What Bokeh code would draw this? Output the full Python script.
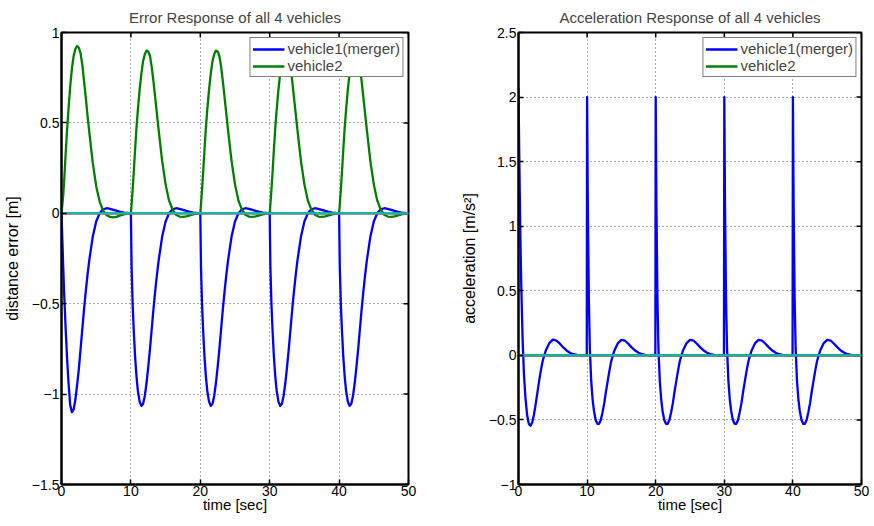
from bokeh.plotting import figure
from bokeh.models import Range1d, FixedTicker, Legend, LegendItem
from bokeh.layouts import row
from bokeh.embed import file_html
from bokeh.resources import INLINE

# ---------------- data ----------------
time = [
    0.0, 0.1, 0.25, 0.4, 0.6, 0.8, 1.0, 1.25, 1.5, 1.75, 2.0, 2.25, 2.5, 2.75, 3.0, 3.25,
    3.5, 3.75, 4.0, 4.5, 5.0, 5.5, 6.0, 6.5, 7.0, 7.5, 8.0, 8.5, 9.0, 9.5, 9.95,
    10.0, 10.1, 10.25, 10.4, 10.6, 10.8, 11.0, 11.25, 11.5, 11.75, 12.0, 12.25, 12.5, 12.75, 13.0, 13.25,
    13.5, 13.75, 14.0, 14.5, 15.0, 15.5, 16.0, 16.5, 17.0, 17.5, 18.0, 18.5, 19.0, 19.5, 19.95,
    20.0, 20.1, 20.25, 20.4, 20.6, 20.8, 21.0, 21.25, 21.5, 21.75, 22.0, 22.25, 22.5, 22.75, 23.0, 23.25,
    23.5, 23.75, 24.0, 24.5, 25.0, 25.5, 26.0, 26.5, 27.0, 27.5, 28.0, 28.5, 29.0, 29.5, 29.95,
    30.0, 30.1, 30.25, 30.4, 30.6, 30.8, 31.0, 31.25, 31.5, 31.75, 32.0, 32.25, 32.5, 32.75, 33.0, 33.25,
    33.5, 33.75, 34.0, 34.5, 35.0, 35.5, 36.0, 36.5, 37.0, 37.5, 38.0, 38.5, 39.0, 39.5, 39.95,
    40.0, 40.1, 40.25, 40.4, 40.6, 40.8, 41.0, 41.25, 41.5, 41.75, 42.0, 42.25, 42.5, 42.75, 43.0, 43.25,
    43.5, 43.75, 44.0, 44.5, 45.0, 45.5, 46.0, 46.5, 47.0, 47.5, 48.0, 48.5, 49.0, 49.5, 49.95,
    50.0,
]

# distance error, vehicle1 (merger)
err_v1 = [
    0.0, -0.12, -0.3, -0.46, -0.64, -0.8, -0.93, -1.06, -1.10, -1.085, -1.03, -0.95, -0.86, -0.75, -0.64, -0.53,
    -0.43, -0.34, -0.26, -0.13, -0.045, 0.0, 0.022, 0.028, 0.025, 0.019, 0.013, 0.008, 0.004, 0.002, 0.0,
    0.0, -0.3, -0.5, -0.64, -0.79, -0.9, -0.98, -1.04, -1.065, -1.055, -1.01, -0.94, -0.85, -0.75, -0.64, -0.53,
    -0.43, -0.34, -0.26, -0.13, -0.045, 0.0, 0.022, 0.028, 0.025, 0.019, 0.013, 0.008, 0.004, 0.002, 0.0,
    0.0, -0.3, -0.5, -0.64, -0.79, -0.9, -0.98, -1.04, -1.065, -1.055, -1.01, -0.94, -0.85, -0.75, -0.64, -0.53,
    -0.43, -0.34, -0.26, -0.13, -0.045, 0.0, 0.022, 0.028, 0.025, 0.019, 0.013, 0.008, 0.004, 0.002, 0.0,
    0.0, -0.3, -0.5, -0.64, -0.79, -0.9, -0.98, -1.04, -1.065, -1.055, -1.01, -0.94, -0.85, -0.75, -0.64, -0.53,
    -0.43, -0.34, -0.26, -0.13, -0.045, 0.0, 0.022, 0.028, 0.025, 0.019, 0.013, 0.008, 0.004, 0.002, 0.0,
    0.0, -0.3, -0.5, -0.64, -0.79, -0.9, -0.98, -1.04, -1.065, -1.055, -1.01, -0.94, -0.85, -0.75, -0.64, -0.53,
    -0.43, -0.34, -0.26, -0.13, -0.045, 0.0, 0.022, 0.028, 0.025, 0.019, 0.013, 0.008, 0.004, 0.002, 0.0,
    0.0,
]

# distance error, vehicle2
err_v2 = [
    0.0, 0.04, 0.1, 0.19, 0.33, 0.46, 0.57, 0.7, 0.8, 0.87, 0.91, 0.925, 0.915, 0.885, 0.82, 0.73,
    0.64, 0.54, 0.45, 0.28, 0.15, 0.065, 0.015, -0.01, -0.02, -0.022, -0.018, -0.012, -0.006, -0.002, 0.0,
    0.0, 0.05, 0.13, 0.22, 0.35, 0.47, 0.57, 0.68, 0.77, 0.84, 0.88, 0.9, 0.895, 0.87, 0.81, 0.73,
    0.64, 0.55, 0.46, 0.29, 0.16, 0.07, 0.02, -0.008, -0.018, -0.02, -0.017, -0.011, -0.006, -0.002, 0.0,
    0.0, 0.05, 0.13, 0.22, 0.35, 0.47, 0.57, 0.68, 0.77, 0.84, 0.88, 0.9, 0.895, 0.87, 0.81, 0.73,
    0.64, 0.55, 0.46, 0.29, 0.16, 0.07, 0.02, -0.008, -0.018, -0.02, -0.017, -0.011, -0.006, -0.002, 0.0,
    0.0, 0.05, 0.13, 0.22, 0.35, 0.47, 0.57, 0.68, 0.77, 0.84, 0.88, 0.9, 0.895, 0.87, 0.81, 0.73,
    0.64, 0.55, 0.46, 0.29, 0.16, 0.07, 0.02, -0.008, -0.018, -0.02, -0.017, -0.011, -0.006, -0.002, 0.0,
    0.0, 0.05, 0.13, 0.22, 0.35, 0.47, 0.57, 0.68, 0.77, 0.84, 0.88, 0.9, 0.895, 0.87, 0.81, 0.73,
    0.64, 0.55, 0.46, 0.29, 0.16, 0.07, 0.02, -0.008, -0.018, -0.02, -0.017, -0.011, -0.006, -0.002, 0.0,
    0.0,
]

# acceleration, vehicle1 (merger)
acc_v1 = [
    2.07, 1.6, 1.0, 0.55, 0.12, -0.15, -0.32, -0.46, -0.53, -0.545, -0.52, -0.46, -0.38, -0.29, -0.2, -0.12,
    -0.05, 0.0, 0.04, 0.095, 0.122, 0.115, 0.092, 0.063, 0.038, 0.02, 0.009, 0.004, 0.001, 0.0, 0.0,
    2.0, 1.2, 0.45, 0.05, -0.2, -0.34, -0.43, -0.5, -0.53, -0.53, -0.5, -0.44, -0.37, -0.28, -0.2, -0.12,
    -0.05, 0.0, 0.04, 0.095, 0.12, 0.115, 0.09, 0.062, 0.037, 0.02, 0.009, 0.004, 0.001, 0.0, 0.0,
    2.0, 1.2, 0.45, 0.05, -0.2, -0.34, -0.43, -0.5, -0.53, -0.53, -0.5, -0.44, -0.37, -0.28, -0.2, -0.12,
    -0.05, 0.0, 0.04, 0.095, 0.12, 0.115, 0.09, 0.062, 0.037, 0.02, 0.009, 0.004, 0.001, 0.0, 0.0,
    2.0, 1.2, 0.45, 0.05, -0.2, -0.34, -0.43, -0.5, -0.53, -0.53, -0.5, -0.44, -0.37, -0.28, -0.2, -0.12,
    -0.05, 0.0, 0.04, 0.095, 0.12, 0.115, 0.09, 0.062, 0.037, 0.02, 0.009, 0.004, 0.001, 0.0, 0.0,
    2.0, 1.2, 0.45, 0.05, -0.2, -0.34, -0.43, -0.5, -0.53, -0.53, -0.5, -0.44, -0.37, -0.28, -0.2, -0.12,
    -0.05, 0.0, 0.04, 0.095, 0.12, 0.115, 0.09, 0.062, 0.037, 0.02, 0.009, 0.004, 0.001, 0.0, 0.0,
    0.0,
]

# vehicles that stay at zero over the whole run
time_flat = [0.0, 50.0]
acc_v2 = [0.0, 0.0]
err_v3 = [0.0, 0.0]
err_v4 = [0.0, 0.0]
acc_v3 = [0.0, 0.0]
acc_v4 = [0.0, 0.0]

x_ticks = [0, 10, 20, 30, 40, 50]
x_tick_labels = ["0", "10", "20", "30", "40", "50"]
err_ticks = [-1.5, -1, -0.5, 0, 0.5, 1]
err_tick_labels = ["\u22121.5", "\u22121", "\u22120.5", "0", "0.5", "1"]
acc_ticks = [-1, -0.5, 0, 0.5, 1, 1.5, 2, 2.5]
acc_tick_labels = ["\u22121", "\u22120.5", "0", "0.5", "1", "1.5", "2", "2.5"]
legend_labels = ["vehicle1(merger)", "vehicle2"]

C_BLUE, C_GREEN, C_RED, C_CYAN = "#0000ff", "#008000", "#ff0000", "#00bfbf"
FONT = "Liberation Sans"

FRAME_H = 452
TICK_LEN = 5  # px, inward ticks


def style_axis(ax, ticks, labels):
    ax.ticker = FixedTicker(ticks=ticks)
    ax.major_label_overrides = {t: l for t, l in zip(ticks, labels)}
    ax.axis_line_width = 2
    ax.axis_line_color = "black"
    ax.major_tick_in = TICK_LEN
    ax.major_tick_out = 0
    ax.major_tick_line_width = 1.5
    ax.minor_tick_line_color = None
    ax.major_label_text_font = FONT
    ax.major_label_text_font_size = "14px"
    ax.major_label_text_color = "black"
    ax.major_label_standoff = 2
    ax.axis_label_text_font = FONT
    ax.axis_label_text_font_style = "normal"
    ax.axis_label_text_color = "black"


def make_fig(title, ylabel, ylo, yhi, yticks, ylabels, lines, frame_w, left_border, right_border):
    p = figure(
        frame_width=frame_w, frame_height=FRAME_H,
        x_range=Range1d(0, 50), y_range=Range1d(ylo, yhi),
        output_backend="svg", toolbar_location=None,
        min_border_left=left_border, min_border_right=right_border,
        min_border_top=0, min_border_bottom=0,
        title=title, x_axis_label="time [sec]", y_axis_label=ylabel,
    )
    p.title.align = "center"
    p.title.text_font = FONT
    p.title.text_font_size = "15px"
    p.title.text_font_style = "normal"
    p.title.standoff = 13
    p.outline_line_color = "black"
    p.outline_line_width = 2
    p.outline_line_alpha = 1.0
    p.background_fill_color = "white"

    style_axis(p.xaxis[0], x_ticks, x_tick_labels)
    p.xaxis[0].major_label_standoff = 1
    p.xaxis[0].axis_label_text_font_size = "15px"
    p.xaxis[0].axis_label_standoff = -3
    style_axis(p.yaxis[0], yticks, ylabels)
    p.yaxis[0].axis_label_text_font_size = "16px"
    p.yaxis[0].axis_label_standoff = 8

    for g in (p.xgrid[0], p.ygrid[0]):
        g.grid_line_color = "#555555"
        g.grid_line_dash = "1 3"
        g.grid_line_width = 1
    p.xgrid[0].ticker = FixedTicker(ticks=x_ticks)
    p.ygrid[0].ticker = FixedTicker(ticks=yticks)

    # inward ticks on the top and right edges of the box
    dy = TICK_LEN * (yhi - ylo) / FRAME_H
    dx = TICK_LEN * 50.0 / frame_w
    p.segment(x0=x_ticks, y0=[yhi] * len(x_ticks), x1=x_ticks, y1=[yhi - dy] * len(x_ticks),
              line_color="black", line_width=1.5)
    p.segment(x0=[50] * len(yticks), y0=yticks, x1=[50 - dx] * len(yticks), y1=yticks,
              line_color="black", line_width=1.5)

    rends = []
    for xs, ys, col in lines:
        r = p.line(xs, ys, line_color=col, line_width=2.3, line_join="round")
        rends.append(r)

    legend = Legend(
        items=[LegendItem(label=legend_labels[0], renderers=[rends[0]]),
               LegendItem(label=legend_labels[1], renderers=[rends[1]])],
        location="top_right",
        border_line_color="black", border_line_width=1.5,
        background_fill_color="white", background_fill_alpha=1.0,
        label_text_font=FONT, label_text_font_size="15px",
        glyph_width=32, glyph_height=14, label_height=14,
        label_standoff=3, spacing=0, padding=2, margin=5,
    )
    p.add_layout(legend)
    return p


p1 = make_fig(
    "Error Response of all 4 vehicles", "distance error [m]", -1.5, 1,
    err_ticks, err_tick_labels,
    [(time, err_v1, C_BLUE), (time, err_v2, C_GREEN),
     (time_flat, err_v3, C_RED), (time_flat, err_v4, C_CYAN)],
    347, 54, 49,
)
p2 = make_fig(
    "Acceleration Response of all 4 vehicles", "acceleration [m/s\u00b2]", -1, 2.5,
    acc_ticks, acc_tick_labels,
    [(time, acc_v1, C_BLUE), (time_flat, acc_v2, C_GREEN),
     (time_flat, acc_v3, C_RED), (time_flat, acc_v4, C_CYAN)],
    343, 54, 8,
)

layout = row(p1, p2)
open("out.html", "w").write(file_html(layout, INLINE))
